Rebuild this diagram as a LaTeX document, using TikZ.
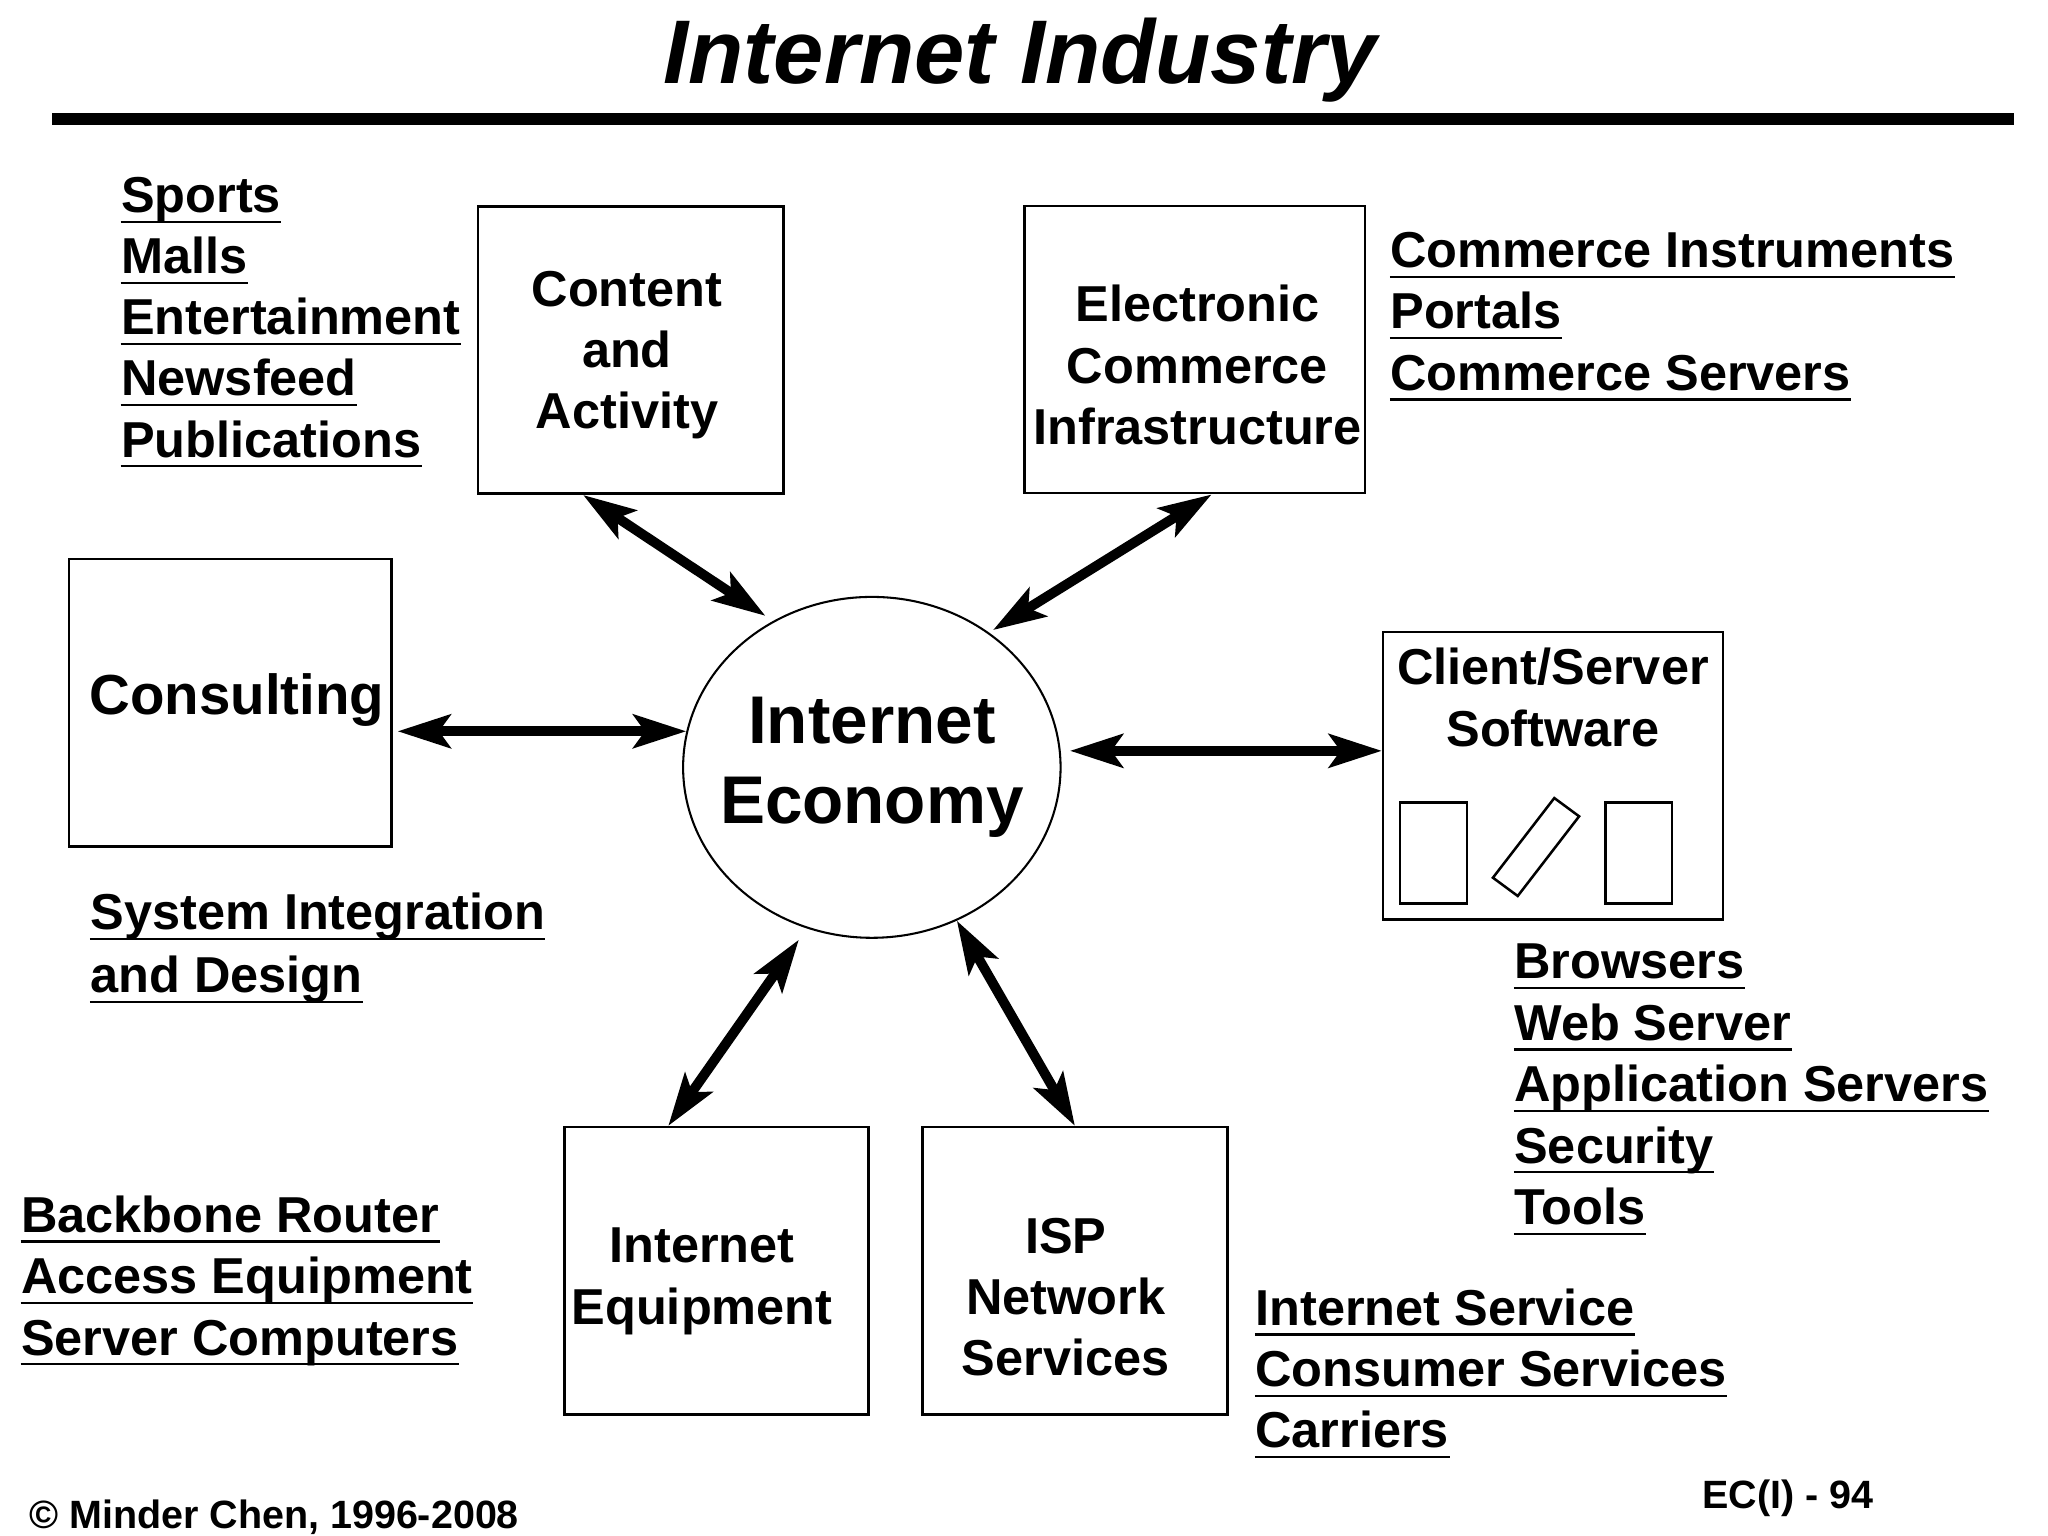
\documentclass[tikz,border=0pt]{standalone}
\usepackage{fontspec}
\setmainfont{Liberation Sans}
\usetikzlibrary{arrows.meta,calc,shapes.geometric}

\newcommand{\pxu}{0.02cm}

\begin{document}
\begin{tikzpicture}[x=0.02cm, y=-0.02cm,
        box/.style     = {rectangle, draw = black, line width = 1.1pt, inner sep = 0pt},
        boxtext/.style = {align = center, inner sep = 0pt, font = \fontsize{22}{26.7}\selectfont\bfseries},
        item/.style    = {anchor = base west, inner sep = 0pt, font = \fontsize{22}{26.7}\selectfont\bfseries},
        uline/.style   = {line width = 1pt},
        conn/.style    = {{Stealth[length=23pt, width=14.5pt, inset=5pt]}-{Stealth[length=23pt, width=14.5pt, inset=5pt]},
                          line width = 4.3pt},
        foot/.style    = {anchor = base west, inner sep = 0pt, font = \fontsize{17.2}{20}\selectfont\bfseries}]

        \useasboundingbox (0,0) rectangle (1568,1176);

        % ---------------------------------------------------------------------------
        % Title
        % ---------------------------------------------------------------------------
        \node[anchor = base, inner sep = 0pt,
              font = \fontsize{39.4}{47}\selectfont\bfseries\itshape]  (title) at (781,63.8) {Internet Industry};
        \draw [line width = 0.18cm] (40,91.3) -- (1542,91.3);

        % ---------------------------------------------------------------------------
        % Draw nodes
        % ---------------------------------------------------------------------------
        \node[  ellipse,
                draw = black,
                line width = 0.9pt,
                minimum width = 289*\pxu,
                minimum height = 261*\pxu]  (econ) at (667.5,587.5) {};
        \node[  align = center, inner sep = 0pt,
                font = \fontsize{29.4}{34.8}\selectfont\bfseries]  (econtext) at (econ.center) {Internet\\Economy};

        \node[  box,
                minimum width = 234*\pxu,
                minimum height = 220*\pxu]  (content) at (483,268) {};
        \node[boxtext]  (contenttext) at ($(content.center)+(-3,4)$) {Content\\and\\Activity};

        \node[  box,
                minimum width = 260.5*\pxu,
                minimum height = 220*\pxu]  (eci) at (914.8,267.6) {};
        \node[boxtext]  (ecitext) at ($(eci.center)+(2,12)$) {Electronic\\Commerce\\Infrastructure};

        \node[  box,
                minimum width = 247*\pxu,
                minimum height = 220*\pxu]  (consult) at (176.4,538) {};
        \node[  inner sep = 0pt,
                font = \fontsize{24.6}{29}\selectfont\bfseries]  (consulttext) at ($(consult.center)+(5,-2)$) {Consulting};

        \node[  box,
                minimum width = 260*\pxu,
                minimum height = 220*\pxu]  (client) at (1189,594) {};
        \node[boxtext]  (clienttext) at ($(client.center)+(0,-60)$) {Client/Server\\Software};

        \node[  box,
                minimum width = 233*\pxu,
                minimum height = 220*\pxu]  (equip) at (548.5,973) {};
        \node[boxtext]  (equiptext) at ($(equip.center)+(-11,8)$) {Internet\\Equipment};

        \node[  box,
                minimum width = 233.2*\pxu,
                minimum height = 220*\pxu]  (isp) at (823,973) {};
        \node[boxtext]  (isptext) at ($(isp.center)+(-7,20)$) {ISP\\Network\\Services};

        % client / server icons
        \draw [line width = 1.1pt] (1072,614.5) rectangle (1123,691.6);
        \draw [line width = 1.1pt] (1143,672) -- (1162,686) -- (1209,625) -- (1190,611) -- cycle;
        \draw [line width = 1.1pt] (1229,614.5) rectangle (1280,691.6);

        % ---------------------------------------------------------------------------
        % Draw lists
        % ---------------------------------------------------------------------------
        \foreach \txt [count=\i from 0] in {Sports,Malls,Entertainment,Newsfeed,Publications} {      % content
            \node[item] (cont\i) at (92.4,{162.7+46.8*\i}) {\txt};
            \draw [uline] ([yshift=-4pt]cont\i.base west) -- ([yshift=-4pt]cont\i.base east);
        }
        \foreach \txt [count=\i from 0] in {Commerce Instruments,Portals,Commerce Servers} {          % e-commerce
            \node[item] (ec\i) at (1064.2,{204.8+47*\i}) {\txt};
            \draw [uline] ([yshift=-4pt]ec\i.base west) -- ([yshift=-4pt]ec\i.base east);
        }
        \foreach \txt [count=\i from 0] in {System Integration,and Design} {                         % consulting
            \node[item] (si\i) at (68.9,{712+48*\i}) {\txt};
            \draw [uline] ([yshift=-4pt]si\i.base west) -- ([yshift=-4pt]si\i.base east);
        }
        \foreach \txt [count=\i from 0] in {Browsers,Web Server,Application Servers,Security,Tools} { % client/server
            \node[item] (cs\i) at (1159,{749.5+47*\i}) {\txt};
            \draw [uline] ([yshift=-4pt]cs\i.base west) -- ([yshift=-4pt]cs\i.base east);
        }
        \foreach \txt [count=\i from 0] in {Backbone Router,Access Equipment,Server Computers} {      % equipment
            \node[item] (ie\i) at (15.8,{943.5+47*\i}) {\txt};
            \draw [uline] ([yshift=-4pt]ie\i.base west) -- ([yshift=-4pt]ie\i.base east);
        }
        \foreach \txt [count=\i from 0] in {Internet Service,Consumer Services,Carriers} {           % ISP
            \node[item] (ns\i) at (960.8,{1014.6+47*\i}) {\txt};
            \draw [uline] ([yshift=-4pt]ns\i.base west) -- ([yshift=-4pt]ns\i.base east);
        }

        % ---------------------------------------------------------------------------
        % Draw arrows
        % ---------------------------------------------------------------------------
        \draw [conn, shorten >=4pt]   ($(content.south west)!0.345!(content.south east)$) -- (econ.124);   % Content
        \draw [conn, shorten >=2pt]   ($(eci.south west)!0.549!(eci.south east)$)         -- (econ.49);    % E-commerce
        \draw [conn, shorten <=2pt]   (consult.east |- econ.169)                          -- (econ.169);   % Consulting
        \draw [conn, shorten <=4pt]   (econ.5)                                            -- (econ.5 -| client.west); % Client/Server
        \draw [conn, shorten <=6pt]   (econ.248) -- ($(equip.north west)!0.343!(equip.north east)$);        % Equipment
        \draw [conn]                  (econ.299)                                          -- (isp.north);  % ISP

        % ---------------------------------------------------------------------------
        % Footer
        % ---------------------------------------------------------------------------
        \node[foot] (copyright) at (22,1170) {© Minder Chen, 1996-2008};
        \node[foot] (pagenum) at (1303,1155) {EC(I) - 94};

\end{tikzpicture}
\end{document}
